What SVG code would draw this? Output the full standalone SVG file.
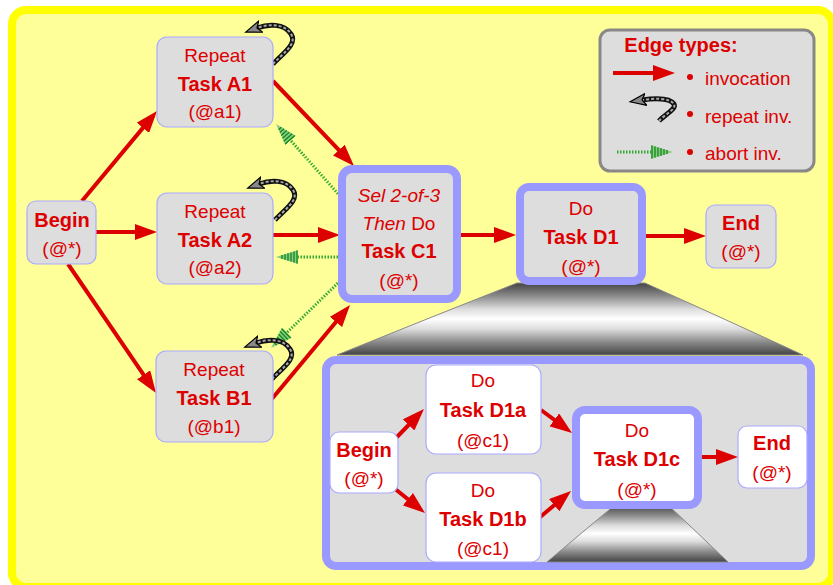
<svg xmlns="http://www.w3.org/2000/svg" width="833" height="585" viewBox="0 0 833 585">
<defs>
<style>
.t{font-family:"Liberation Sans","DejaVu Sans",sans-serif;fill:#dd0000;text-anchor:middle;font-size:19px}
.b{font-weight:bold;font-size:20px}
.i{font-style:italic}
.lg{text-anchor:start;font-size:19px}
.node{fill:#dddddd;stroke:#aaaaff;stroke-width:1.2}
.wnode{fill:#ffffff;stroke:#aaaaff;stroke-width:1.2}
.thick{fill:#dddddd;stroke:#9999ff;stroke-width:8}
.wthick{fill:#ffffff;stroke:#9999ff;stroke-width:8}
.inv{fill:none;stroke:#dd0000;stroke-width:4;marker-end:url(#ah)}
.ab{fill:none;stroke:#33aa33;stroke-width:3;stroke-dasharray:1.5 1.5;marker-end:url(#gh)}
.rep{fill:none;stroke:#111;stroke-width:5}
.rep2{fill:none;stroke:#aaaaaa;stroke-width:2;stroke-dasharray:3 2;marker-end:url(#rh)}
</style>
<marker id="ah" markerUnits="userSpaceOnUse" markerWidth="22" markerHeight="16" refX="14" refY="8" orient="auto">
<path d="M0,0 L22,8 L0,16 z" fill="#dd0000"/>
</marker>
<marker id="gh" markerUnits="userSpaceOnUse" markerWidth="22" markerHeight="14" refX="13" refY="7" orient="auto">
<path d="M0,0 L22,7 L0,14 z" fill="#88cc88"/>
<g stroke="#118811" stroke-width="1.3">
<line x1="1" y1="0.6" x2="1" y2="13.4"/>
<line x1="4" y1="1.4" x2="4" y2="12.6"/>
<line x1="7" y1="2.4" x2="7" y2="11.6"/>
<line x1="10" y1="3.3" x2="10" y2="10.7"/>
<line x1="13" y1="4.2" x2="13" y2="9.8"/>
<line x1="16" y1="5.1" x2="16" y2="8.9"/>
</g>
</marker>
<marker id="rh" markerUnits="userSpaceOnUse" markerWidth="18" markerHeight="14" refX="4" refY="7" orient="auto">
<path d="M0,1 L16,7 L0,13 L4,7 z" fill="#888" stroke="#000" stroke-width="1.2"/>
</marker>
<linearGradient id="gr" x1="0" y1="0" x2="0" y2="1">
<stop offset="0" stop-color="#444"/>
<stop offset="0.18" stop-color="#8a8a8a"/>
<stop offset="0.36" stop-color="#dcdcdc"/>
<stop offset="0.5" stop-color="#ffffff"/>
<stop offset="0.64" stop-color="#dcdcdc"/>
<stop offset="0.82" stop-color="#8a8a8a"/>
<stop offset="1" stop-color="#444"/>
</linearGradient>
</defs>

<rect x="12" y="10" width="820" height="577" rx="14" fill="#ffff99" stroke="#ffff00" stroke-width="8"/>

<g id="zoom-trapezoids">
<polygon points="517,283 645,283 803,355 337,355" fill="url(#gr)" stroke="#888" stroke-width="1"/>
</g>

<g id="legend">
<rect x="600" y="30" width="214" height="141" rx="10" fill="#dddddd" stroke="#888888" stroke-width="3"/>
<text class="t b" x="681" y="52">Edge types:</text>
<line class="inv" x1="613" y1="73" x2="667" y2="73"/>
<circle cx="690" cy="77" r="3" fill="#dd0000"/>
<circle cx="690" cy="114" r="3" fill="#dd0000"/>
<circle cx="690" cy="152" r="3" fill="#dd0000"/>
<text class="t lg" x="705" y="85">invocation</text>
<text class="t lg" x="705" y="123">repeat inv.</text>
<text class="t lg" x="705" y="160">abort inv.</text>
<path class="rep" d="M659,121 C664,115 677,109 674,104 C670,98 655,98 642,100"/>
<path class="rep2" d="M659,121 C664,115 677,109 674,104 C670,98 655,98 642,100"/>
<line class="ab" x1="617" y1="152" x2="664" y2="152"/>
</g>

<g id="container">
<rect x="326" y="360" width="485" height="206" rx="10" fill="#dddddd" stroke="#9999ff" stroke-width="8"/>
<polygon points="615,505 668,505 728,562 547,562" fill="url(#gr)" stroke="#888" stroke-width="1"/>
</g>

<g id="connectors">
<line class="inv" x1="82" y1="201" x2="151.9" y2="117.1"/>
<line class="inv" x1="96" y1="232" x2="149" y2="232"/>
<line class="inv" x1="68" y1="264" x2="151.5" y2="386.4"/>
<line class="inv" x1="273" y1="81" x2="348.5" y2="160.2"/>
<line class="inv" x1="273" y1="235" x2="332" y2="235"/>
<line class="inv" x1="271" y1="400" x2="344.9" y2="311.2"/>
<line class="inv" x1="457" y1="235" x2="508" y2="235"/>
<line class="inv" x1="646" y1="236" x2="698" y2="236"/>
<line class="inv" x1="397" y1="437" x2="418.4" y2="414.8"/>
<line class="inv" x1="394" y1="488" x2="418.8" y2="508"/>
<line class="inv" x1="541" y1="410" x2="565.6" y2="428.2"/>
<line class="inv" x1="539" y1="518" x2="564.9" y2="496.2"/>
<line class="inv" x1="701" y1="457" x2="730" y2="457"/>
<line class="ab" x1="340" y1="196" x2="282" y2="130.7"/>
<line class="ab" x1="341" y1="257" x2="285" y2="257"/>
<line class="ab" x1="340" y1="281" x2="277.5" y2="341.7"/>
<g id="rep-a1">
<path class="rep" d="M273,64 C282,54 298,44 291,34 C284,23 268,24 257,28"/>
<path class="rep2" d="M273,64 C282,54 298,44 291,34 C284,23 268,24 257,28"/>
</g>
<g id="rep-a2" transform="translate(2,156)">
<path class="rep" d="M273,64 C282,54 298,44 291,34 C284,23 268,24 257,28"/>
<path class="rep2" d="M273,64 C282,54 298,44 291,34 C284,23 268,24 257,28"/>
</g>
<g id="rep-b1" transform="translate(-1,315)">
<path class="rep" d="M273,64 C282,54 298,44 291,34 C284,23 268,24 257,28"/>
<path class="rep2" d="M273,64 C282,54 298,44 291,34 C284,23 268,24 257,28"/>
</g>
</g>

<g id="begin">
<rect class="node" x="27" y="201" width="69" height="63" rx="9"/>
<text class="t b" x="62" y="227">Begin</text>
<text class="t" x="62" y="255">(@*)</text>
</g>
<g id="a1">
<rect class="node" x="157" y="37" width="116" height="90" rx="10"/>
<text class="t" x="215" y="62">Repeat</text>
<text class="t b" x="215" y="91">Task A1</text>
<text class="t" x="215" y="118">(@a1)</text>
</g>
<g id="a2">
<rect class="node" x="157" y="193" width="116" height="91" rx="10"/>
<text class="t" x="215" y="218">Repeat</text>
<text class="t b" x="215" y="247">Task A2</text>
<text class="t" x="215" y="274">(@a2)</text>
</g>
<g id="b1">
<rect class="node" x="156" y="351" width="117" height="91" rx="10"/>
<text class="t" x="214" y="376">Repeat</text>
<text class="t b" x="214" y="405">Task B1</text>
<text class="t" x="214" y="433">(@b1)</text>
</g>
<g id="c1">
<rect class="thick" x="342" y="169" width="115" height="130" rx="10"/>
<text class="t i" x="399" y="202">Sel 2-of-3</text>
<text class="t" x="399" y="230"><tspan class="i">Then</tspan> Do</text>
<text class="t b" x="399" y="258">Task C1</text>
<text class="t" x="399" y="287">(@*)</text>
</g>
<g id="d1">
<rect class="thick" x="520" y="187" width="122" height="94" rx="9"/>
<text class="t" x="581" y="215">Do</text>
<text class="t b" x="581" y="244">Task D1</text>
<text class="t" x="581" y="273">(@*)</text>
</g>
<g id="end">
<rect class="node" x="706" y="205" width="70" height="63" rx="9"/>
<text class="t b" x="741" y="230">End</text>
<text class="t" x="741" y="258">(@*)</text>
</g>
<g id="ibegin">
<rect class="wnode" x="330" y="432" width="68" height="61" rx="9"/>
<text class="t b" x="364" y="457">Begin</text>
<text class="t" x="364" y="485">(@*)</text>
</g>
<g id="d1a">
<rect class="wnode" x="426" y="365" width="115" height="89" rx="10"/>
<text class="t" x="483" y="387">Do</text>
<text class="t b" x="483" y="417">Task D1a</text>
<text class="t" x="483" y="447">(@c1)</text>
</g>
<g id="d1b">
<rect class="wnode" x="426" y="473" width="115" height="89" rx="10"/>
<text class="t" x="483" y="497">Do</text>
<text class="t b" x="483" y="526">Task D1b</text>
<text class="t" x="483" y="555">(@c1)</text>
</g>
<g id="d1c">
<rect class="wthick" x="576" y="410" width="122" height="95" rx="9"/>
<text class="t" x="637" y="437">Do</text>
<text class="t b" x="637" y="466">Task D1c</text>
<text class="t" x="637" y="496">(@*)</text>
</g>
<g id="iend">
<rect class="wnode" x="738" y="426" width="69" height="62" rx="9"/>
<text class="t b" x="772" y="450">End</text>
<text class="t" x="772" y="479">(@*)</text>
</g>
</svg>
